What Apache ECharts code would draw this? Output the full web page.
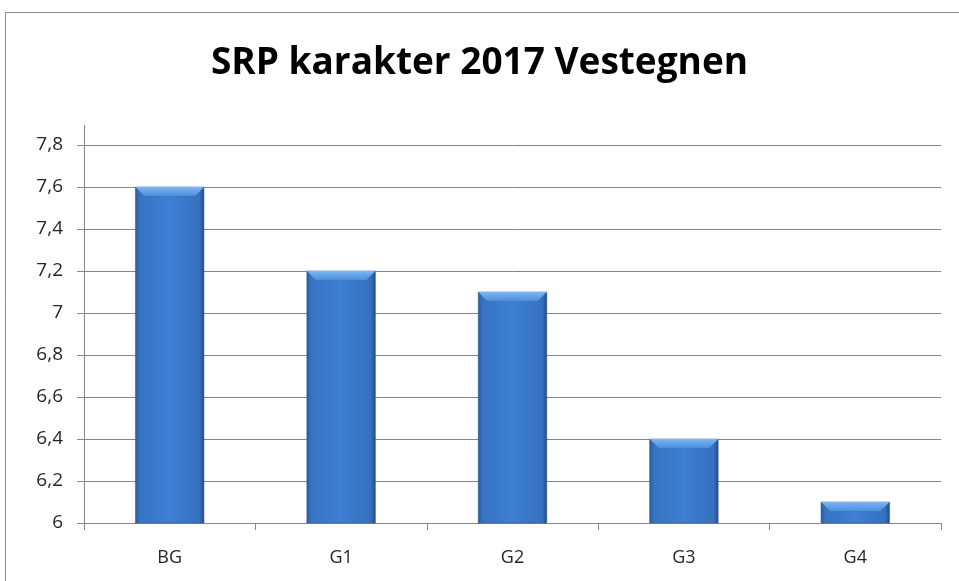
<!DOCTYPE html>
<html>
<head>
<meta charset="utf-8">
<script src="https://cdn.jsdelivr.net/npm/echarts@6/dist/echarts.min.js"></script>
<style>html,body{margin:0;padding:0;background:#fff;}#c{width:959px;height:581px;}</style>
</head>
<body>
<div id="c"></div>
<script>
const titleText = 'SRP karakter 2017 Vestegnen';
const categories = ['BG', 'G1', 'G2', 'G3', 'G4'];
const values = [7.6, 7.2, 7.1, 6.4, 6.1];
const yMin = 6, yMax = 7.8, yInterval = 0.2;

const chart = echarts.init(document.getElementById('c'), null, {renderer: 'canvas'});
const bodyGrad = new echarts.graphic.LinearGradient(0, 0, 1, 0, [
  {offset: 0, color: '#295c9f'},
  {offset: 0.07, color: '#3774c3'},
  {offset: 0.5, color: '#3d7fd2'},
  {offset: 0.93, color: '#3571bf'},
  {offset: 1, color: '#224b86'}
]);
const bevelGrad = new echarts.graphic.LinearGradient(0, 0, 0, 1, [
  {offset: 0, color: '#7cb6f2'},
  {offset: 1, color: '#4d8edc'}
]);

function renderBar(params, api) {
  const idx = api.value(0);
  const val = api.value(1);
  const top = api.coord([idx, val]);
  const base = api.coord([idx, yMin]);
  const w = api.size([1, 0])[0] * 0.4;
  const x0 = top[0] - w / 2;
  const h = base[1] - top[1];
  const bev = Math.min(9, h / 2);
  const inset = Math.min(9, w / 6);
  return {
    type: 'group',
    children: [
      {type: 'rect', shape: {x: x0, y: top[1], width: w, height: h},
       style: {fill: bodyGrad, stroke: '#2a5594', lineWidth: 0.5}},
      {type: 'polygon', shape: {points: [[x0, top[1]], [x0 + w, top[1]], [x0 + w - inset, top[1] + bev], [x0 + inset, top[1] + bev]]},
       style: {fill: bevelGrad}}
    ]
  };
}

chart.setOption({
  animation: false,
  backgroundColor: '#fff',
  title: {
    text: titleText, left: 'center', top: 40,
    textStyle: {fontFamily: 'Open Sans', fontWeight: 'bold', fontSize: 37, color: '#000'}
  },
  grid: {left: 84, right: 18, top: 145, bottom: 58, containLabel: false},
  xAxis: {
    type: 'category', data: categories,
    axisLine: {lineStyle: {color: '#868686', width: 1}},
    axisTick: {show: true, length: 7, alignWithLabel: false, lineStyle: {color: '#868686'}},
    axisLabel: {color: '#262626', fontFamily: 'Open Sans', fontSize: 18, margin: 26}
  },
  yAxis: {
    type: 'value', min: yMin, max: yMax, interval: yInterval,
    axisLine: {show: true, lineStyle: {color: '#868686'}},
    axisTick: {show: true, length: 7, lineStyle: {color: '#868686'}},
    splitLine: {lineStyle: {color: '#868686', width: 1}},
    axisLabel: {
      color: '#262626', fontFamily: 'Open Sans', fontSize: 19, margin: 21,
      formatter: v => String(Math.round(v * 10) / 10).replace('.', ',')
    }
  },
  series: [{
    type: 'custom',
    data: values.map((v, i) => [i, v]),
    encode: {x: 0, y: 1},
    renderItem: renderBar
  }],
  graphic: [
    {type: 'rect', shape: {x: 5.5, y: 12.5, width: 1100, height: 1000}, style: {fill: 'none', stroke: '#8a8a8a', lineWidth: 1}, silent: true},
    {type: 'line', shape: {x1: 84.5, y1: 125, x2: 84.5, y2: 145}, style: {stroke: '#868686', lineWidth: 1}, silent: true}
  ]
});
</script>
</body>
</html>
